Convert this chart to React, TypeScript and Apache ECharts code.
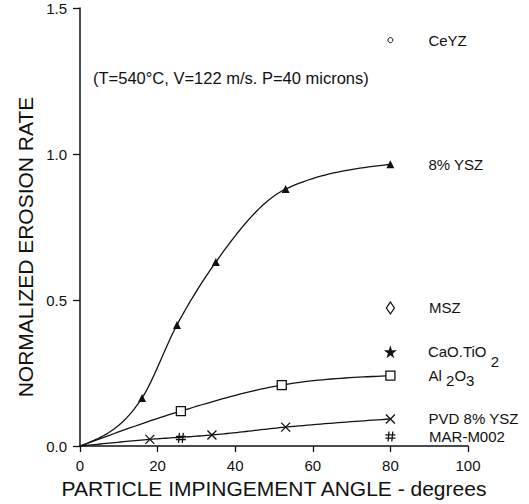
import React, { useEffect, useRef } from "react";
import * as echarts from "echarts";

// ---- data ----
const xTickMin = 0;
const xTickMax = 100;
const xTickStep = 20;
const yTickMin = 0;
const yTickMax = 1.5;
const yTickStep = 0.5;

const ysz8Angle = [0, 16, 25, 35, 53, 80];
const ysz8Rate = [0, 0.165, 0.415, 0.63, 0.88, 0.965];

const al2o3Angle = [0, 26, 52, 80];
const al2o3Rate = [0, 0.12, 0.209, 0.241];

const pvdAngle = [0, 18, 34, 53, 80];
const pvdRate = [0, 0.023, 0.038, 0.065, 0.093];

const marAngle = [26, 80];
const marRate = [0.028, 0.033];

const ceyzAngle = [80];
const ceyzRate = [1.39];

const mszAngle = [80];
const mszRate = [0.473];

const caoAngle = [80];
const caoRate = [0.323];

const xTitle = "PARTICLE IMPINGEMENT ANGLE - degrees";
const yTitle = "NORMALIZED EROSION RATE";
const note = "(T=540°C, V=122 m/s. P=40 microns)";

const FONT = "Liberation Sans, Arial, Helvetica, sans-serif";
const BLACK = "#111";

const crossPath = "path://M0 0L10 10M10 0L0 10";
const hashPath = "path://M3.6 0L2.6 10M7.4 0L6.4 10M0 3.4L10 3.4M0 6.6L10 6.6";
const starPath =
  "path://M50,0 L61,35 L98,35 L68,57 L79,91 L50,70 L21,91 L32,57 L2,35 L39,35 Z";

// monotone cubic (Fritsch–Carlson, like d3.curveMonotoneX) through the data points
function monotoneSample(xs: number[], ys: number[], steps = 24): number[][] {
  const n = xs.length;
  const s: number[] = [];
  for (let i = 0; i < n - 1; i++) s.push((ys[i + 1] - ys[i]) / (xs[i + 1] - xs[i]));
  const m: number[] = new Array(n).fill(0);
  for (let i = 1; i < n - 1; i++) {
    const h0 = xs[i] - xs[i - 1];
    const h1 = xs[i + 1] - xs[i];
    const p = (s[i - 1] * h1 + s[i] * h0) / (h0 + h1);
    m[i] =
      (Math.sign(s[i - 1]) + Math.sign(s[i])) *
        Math.min(Math.abs(s[i - 1]), Math.abs(s[i]), 0.5 * Math.abs(p)) || 0;
  }
  if (n > 2) {
    m[0] = (3 * s[0] - m[1]) / 2;
    m[n - 1] = (3 * s[n - 2] - m[n - 2]) / 2;
  } else {
    m[0] = s[0];
    m[n - 1] = s[0];
  }
  const out: number[][] = [];
  for (let i = 0; i < n - 1; i++) {
    const h = xs[i + 1] - xs[i];
    for (let k = 0; k < steps; k++) {
      const t = k / steps;
      const t2 = t * t;
      const t3 = t2 * t;
      const y =
        (2 * t3 - 3 * t2 + 1) * ys[i] +
        (t3 - 2 * t2 + t) * h * m[i] +
        (-2 * t3 + 3 * t2) * ys[i + 1] +
        (t3 - t2) * h * m[i + 1];
      out.push([xs[i] + t * h, y]);
    }
  }
  out.push([xs[n - 1], ys[n - 1]]);
  return out;
}

function curveSeries(xs: number[], ys: number[]) {
  const pts = monotoneSample(xs, ys);
  return {
    type: "custom",
    silent: true,
    z: 2,
    data: xs.map((x, i) => [x, ys[i]]),
    encode: { x: 0, y: 1 },
    renderItem: (params: any, api: any) => {
      if (params.dataIndex !== 0) return { type: "group", children: [] };
      return {
        type: "polyline",
        shape: { points: pts.map((p) => api.coord(p)) },
        style: { stroke: BLACK, lineWidth: 1.3, fill: "none" },
      };
    },
  };
}

function markerData(
  xs: number[],
  ys: number[],
  labelText: string,
  labelDistance: number,
  rich?: any
) {
  const items: any[] = [];
  xs.forEach((x, i) => {
    if (x === 0 && ys[i] === 0) return; // curve origin, no marker
    const item: any = { value: [x, ys[i]] };
    if (i === xs.length - 1) {
      item.label = {
        show: true,
        position: "right",
        distance: labelDistance,
        formatter: labelText,
        color: BLACK,
        fontSize: 15,
        fontFamily: FONT,
        align: "left",
        rich: rich,
      };
    }
    items.push(item);
  });
  return items;
}

export default function App() {
  const ref = useRef<HTMLDivElement>(null);

  useEffect(() => {
    if (!ref.current) return;
    const chart = echarts.init(ref.current, undefined, { renderer: "svg" });

    const option: any = {
      animation: false,
      backgroundColor: "#fff",
      grid: { left: 80, right: 61, top: 8, bottom: 55 },
      xAxis: {
        type: "value",
        min: xTickMin,
        max: xTickMax,
        interval: xTickStep,
        axisLine: { onZero: false, lineStyle: { color: BLACK, width: 1.5 } },
        axisTick: { show: true, length: 6, lineStyle: { color: BLACK, width: 1.3 } },
        axisLabel: { color: BLACK, fontSize: 15, fontFamily: FONT, margin: 12 },
        splitLine: { show: false },
        name: xTitle,
        nameLocation: "middle",
        nameGap: 27,
        nameTextStyle: { color: BLACK, fontSize: 21, fontFamily: FONT },
      },
      yAxis: {
        type: "value",
        min: yTickMin,
        max: yTickMax,
        interval: yTickStep,
        axisLine: { show: true, lineStyle: { color: BLACK, width: 1.5 } },
        axisTick: { show: true, length: 7, lineStyle: { color: BLACK, width: 1.3 } },
        axisLabel: {
          color: BLACK,
          fontSize: 15,
          fontFamily: FONT,
          margin: 13,
          formatter: (v: number) => v.toFixed(1),
        },
        splitLine: { show: false },
      },
      graphic: [
        {
          type: "text",
          left: 93,
          top: 69,
          style: { text: note, fill: BLACK, fontSize: 16.5, fontFamily: FONT },
        },
        {
          type: "text",
          x: 25,
          y: 247,
          rotation: Math.PI / 2,
          style: {
            text: yTitle,
            fill: BLACK,
            fontSize: 21,
            fontFamily: FONT,
            align: "center",
            verticalAlign: "middle",
          },
        },
      ],
      series: [
        curveSeries(ysz8Angle, ysz8Rate),
        curveSeries(al2o3Angle, al2o3Rate),
        curveSeries(pvdAngle, pvdRate),
        {
          type: "scatter",
          name: "8% YSZ",
          symbol: "triangle",
          symbolSize: 8,
          itemStyle: { color: BLACK, opacity: 1 },
          data: markerData(ysz8Angle, ysz8Rate, "8% YSZ", 34),
          z: 4,
        },
        {
          type: "scatter",
          name: "Al2O3",
          symbol: "rect",
          symbolSize: 9,
          itemStyle: { color: "#fff", borderColor: BLACK, borderWidth: 1.3, opacity: 1 },
          data: markerData(al2o3Angle, al2o3Rate, "Al {s|2}O{s|3}", 33, {
            s: { fontSize: 15, fontFamily: FONT, color: BLACK, padding: [10, 0, 0, 0] },
          }),
          z: 4,
        },
        {
          type: "scatter",
          name: "PVD 8% YSZ",
          symbol: crossPath,
          symbolSize: 9,
          itemStyle: { color: "rgba(0,0,0,0)", borderColor: BLACK, borderWidth: 1.3, opacity: 1 },
          data: markerData(pvdAngle, pvdRate, "PVD 8% YSZ", 33),
          z: 4,
        },
        {
          type: "scatter",
          name: "MAR-M002",
          symbol: hashPath,
          symbolSize: 10,
          itemStyle: { color: "rgba(0,0,0,0)", borderColor: BLACK, borderWidth: 1.3, opacity: 1 },
          data: markerData(marAngle, marRate, "MAR-M002", 33),
          z: 4,
        },
        {
          type: "scatter",
          name: "CeYZ",
          symbol: "circle",
          symbolSize: 5,
          itemStyle: { color: "#fff", borderColor: BLACK, borderWidth: 1, opacity: 1 },
          data: markerData(ceyzAngle, ceyzRate, "CeYZ", 35),
        },
        {
          type: "scatter",
          name: "MSZ",
          symbol: "diamond",
          symbolSize: [8, 12],
          itemStyle: { color: "#fff", borderColor: BLACK, borderWidth: 1.3, opacity: 1 },
          data: markerData(mszAngle, mszRate, "MSZ", 34),
        },
        {
          type: "scatter",
          name: "CaO.TiO2",
          symbol: starPath,
          symbolSize: 13,
          itemStyle: { color: BLACK, opacity: 1 },
          data: markerData(caoAngle, caoRate, "CaO.TiO {s|2}", 31, {
            s: { fontSize: 15, fontFamily: FONT, color: BLACK, padding: [20, 0, 0, 0] },
          }),
        },
      ],
    };

    chart.setOption(option);
    return () => chart.dispose();
  }, []);

  return (
    <div
      ref={ref}
      style={{ position: "absolute", left: 0, top: 0, width: 529, height: 504, background: "#fff" }}
    />
  );
}
